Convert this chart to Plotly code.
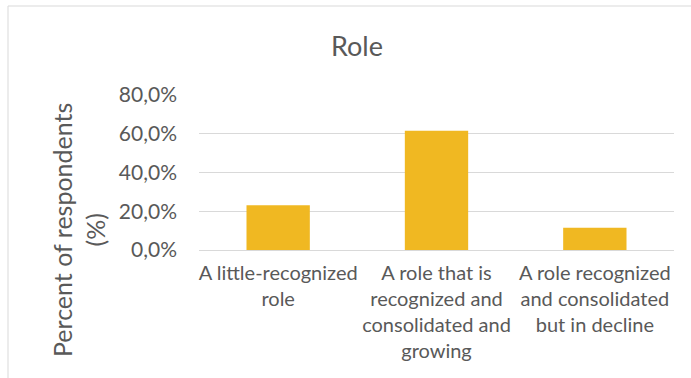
import plotly.graph_objects as go

# Survey answers on how the role is perceived
categories = [
    "A little-recognized<br>role",
    "A role that is<br>recognized and<br>consolidated and<br>growing",
    "A role recognized<br>and consolidated<br>but in decline",
]
shares = [0.231, 0.615, 0.115]
y_ticks = [0.0, 0.2, 0.4, 0.6, 0.8]

W, H = 691, 378
ml, mr, mt, mb = 199, 17, 95, 128
pw, ph = W - ml - mr, H - mt - mb


def px_x(x):
    return (x - ml) / pw


def px_y(y):
    return (H - mb - y) / ph


text_col = "#595959"
grid_col = "#d9d9d9"
font_family = "Lato, 'Open Sans', sans-serif"

fig = go.Figure(
    go.Bar(
        x=categories,
        y=shares,
        marker=dict(color="#F0B822", line=dict(width=0)),
        hoverinfo="x+y",
    )
)

fig.update_layout(
    width=W,
    height=H,
    margin=dict(l=ml, r=mr, t=mt, b=mb, autoexpand=False),
    paper_bgcolor="white",
    plot_bgcolor="white",
    separators=",.",
    bargap=0.6,
    showlegend=False,
    font=dict(family=font_family, color=text_col, size=20),
    title=dict(
        text="Role",
        x=357 / W,
        xanchor="center",
        xref="container",
        y=1 - 47 / H,
        yanchor="middle",
        yref="container",
        font=dict(size=27, color=text_col, family=font_family),
    ),
    xaxis=dict(
        showgrid=False,
        showline=False,
        ticks="",
        ticklabelstandoff=9,
        tickfont=dict(size=20, color=text_col),
        fixedrange=True,
    ),
    yaxis=dict(
        range=[0, 0.8],
        tickvals=y_ticks,
        tickformat=".1%",
        showgrid=True,
        gridcolor=grid_col,
        gridwidth=1,
        zeroline=True,
        zerolinecolor=grid_col,
        zerolinewidth=1,
        showline=False,
        ticks="",
        ticklabelstandoff=21,
        tickfont=dict(size=21, color=text_col),
        fixedrange=True,
    ),
    shapes=[
        dict(
            type="rect",
            xref="paper",
            yref="paper",
            x0=px_x(8),
            x1=px_x(W + 20),
            y0=px_y(H + 20),
            y1=px_y(6),
            line=dict(color=grid_col, width=1),
            fillcolor="rgba(0,0,0,0)",
            layer="below",
        )
    ],
    annotations=[
        dict(
            text="Percent of respondents<br>(%)",
            textangle=-90,
            xref="paper",
            yref="paper",
            x=px_x(78),
            y=px_y(230),
            xanchor="center",
            yanchor="middle",
            showarrow=False,
            font=dict(size=25, color=text_col, family=font_family),
        )
    ],
)

fig.write_html("out.html")
